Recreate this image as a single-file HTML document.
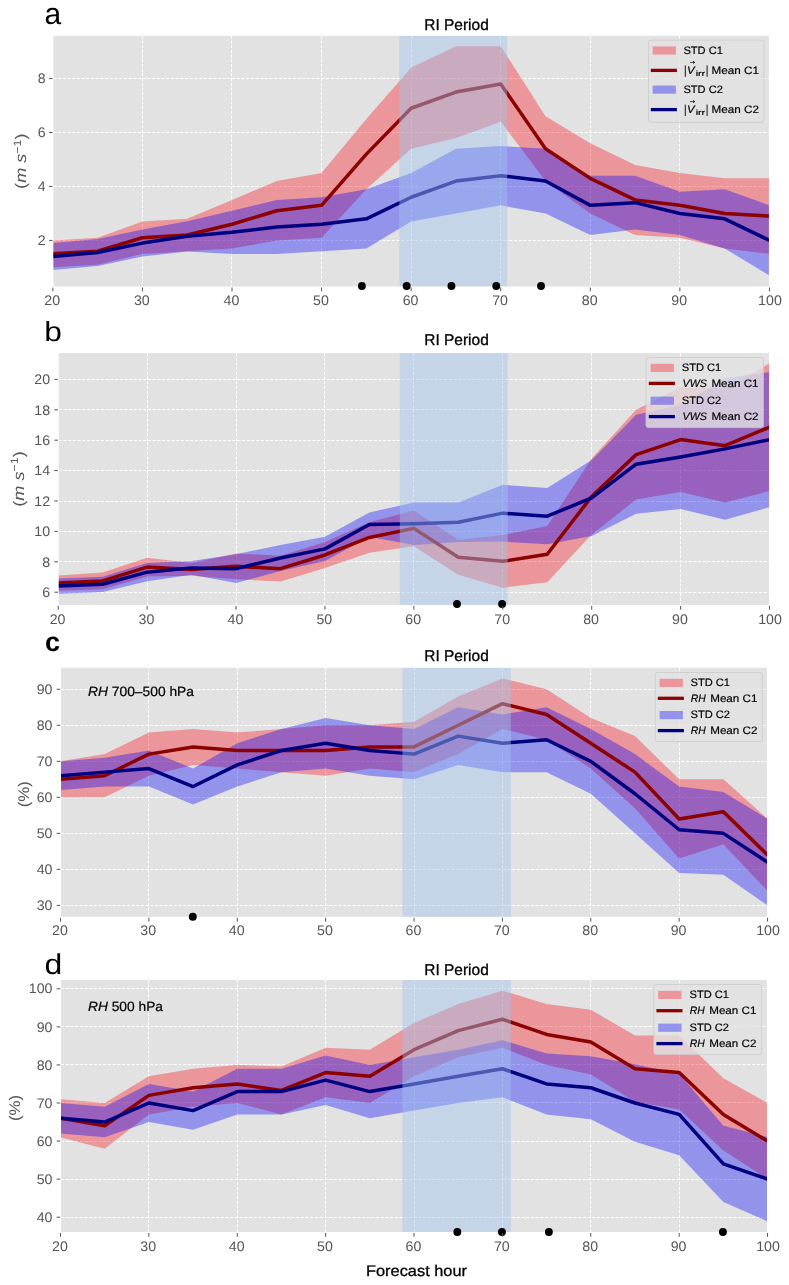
<!DOCTYPE html>
<html><head><meta charset="utf-8"><title>chart</title>
<style>html,body{margin:0;padding:0;background:#fff;}svg{display:block;will-change:transform;opacity:0.999;}text{font-family:"Liberation Sans",sans-serif;text-rendering:geometricPrecision;}</style></head><body>
<svg width="789" height="1285" viewBox="0 0 789 1285">
<rect x="0" y="0" width="789" height="1285" fill="#ffffff"/>
<g id="panel-a">
<rect x="53.4" y="35.8" width="715.5" height="250.7" fill="#e2e2e2"/>
<path d="M142.5 35.8V286.5M231.5 35.8V286.5M321.5 35.8V286.5M411.5 35.8V286.5M500.5 35.8V286.5M590.5 35.8V286.5M679.5 35.8V286.5M53.4 240.5H768.9M53.4 186.5H768.9M53.4 132.5H768.9M53.4 78.5H768.9" stroke="#ffffff" stroke-width="1" stroke-dasharray="3.0 1.7" fill="none"/>
<clipPath id="clip-a"><rect x="53.4" y="35.8" width="715.5" height="250.7"/></clipPath>
<g clip-path="url(#clip-a)">
<path d="M52.85 240.4L97.64 237.7L142.42 221.52L187.21 218.82L232 199.94L276.79 181.07L321.57 172.98L366.36 119.04L411.15 67.79L455.94 46.22L500.73 46.22L545.51 116.34L590.3 143.31L635.09 164.88L679.88 172.98L724.66 178.37L769.45 178.37L769.45 253.88L724.66 248.49L679.88 237.7L635.09 235.01L590.3 213.43L545.51 181.07L500.73 121.73L455.94 137.91L411.15 148.7L366.36 189.16L321.57 237.7L276.79 240.4L232 248.49L187.21 251.19L142.42 253.88L97.64 264.67L52.85 267.37Z" fill="#f80a14" fill-opacity="0.35" stroke="none"/>
<path d="M52.85 243.1L97.64 239.05L142.42 229.61L187.21 221.25L232 210.73L276.79 199.94L321.57 197.25L366.36 189.16L411.15 172.98L455.94 148.7L500.73 146L545.51 148.7L590.3 175.67L635.09 175.67L679.88 191.85L724.66 189.16L769.45 205.34L769.45 275.46L724.66 248.49L679.88 235.01L635.09 229.61L590.3 235.01L545.51 213.43L500.73 205.34L455.94 213.43L411.15 221.52L366.36 248.49L321.57 251.19L276.79 253.88L232 253.89L187.21 251.46L142.42 256.58L97.64 266.02L52.85 270.07Z" fill="#0000ff" fill-opacity="0.35" stroke="none"/>
<path d="M52.85 253.88L97.64 251.19L142.42 237.7L187.21 235.01L232 224.22L276.79 210.73L321.57 205.34L366.36 154.1L411.15 108.25L455.94 92.07L500.73 83.97L545.51 148.7L590.3 178.37L635.09 199.94L679.88 205.34L724.66 213.43L769.45 216.13" fill="none" stroke="#8b0000" stroke-width="3.5" stroke-linejoin="round" stroke-linecap="butt"/>
<path d="M52.85 256.58L97.64 252.54L142.42 243.1L187.21 236.35L232 232.31L276.79 226.92L321.57 224.22L366.36 218.82L411.15 197.25L455.94 181.07L500.73 175.67L545.51 181.07L590.3 205.34L635.09 202.64L679.88 213.43L724.66 218.82L769.45 240.4" fill="none" stroke="#000080" stroke-width="3.5" stroke-linejoin="round" stroke-linecap="butt"/>
<rect x="399.3" y="35.8" width="107.9" height="250.7" fill="#a2c4ed" fill-opacity="0.45"/>
</g>
<circle cx="361.88" cy="286" r="3.95" fill="#000"/>
<circle cx="406.67" cy="286" r="3.95" fill="#000"/>
<circle cx="451.46" cy="286" r="3.95" fill="#000"/>
<circle cx="496.25" cy="286" r="3.95" fill="#000"/>
<circle cx="541.03" cy="286" r="3.95" fill="#000"/>
<path d="M52.85 287.5v3.8M142.42 287.5v3.8M232 287.5v3.8M321.57 287.5v3.8M411.15 287.5v3.8M500.73 287.5v3.8M590.3 287.5v3.8M679.88 287.5v3.8M769.45 287.5v3.8M52.6 240.4h-3.6M52.6 186.46h-3.6M52.6 132.52h-3.6M52.6 78.58h-3.6" stroke="#555555" stroke-width="1" fill="none"/>
<text x="52.25" y="305.1" font-size="13.8" fill="#555555" text-anchor="middle" textLength="15.8" lengthAdjust="spacingAndGlyphs">20</text>
<text x="141.82" y="305.1" font-size="13.8" fill="#555555" text-anchor="middle" textLength="15.8" lengthAdjust="spacingAndGlyphs">30</text>
<text x="231.4" y="305.1" font-size="13.8" fill="#555555" text-anchor="middle" textLength="15.8" lengthAdjust="spacingAndGlyphs">40</text>
<text x="320.97" y="305.1" font-size="13.8" fill="#555555" text-anchor="middle" textLength="15.8" lengthAdjust="spacingAndGlyphs">50</text>
<text x="410.55" y="305.1" font-size="13.8" fill="#555555" text-anchor="middle" textLength="15.8" lengthAdjust="spacingAndGlyphs">60</text>
<text x="500.12" y="305.1" font-size="13.8" fill="#555555" text-anchor="middle" textLength="15.8" lengthAdjust="spacingAndGlyphs">70</text>
<text x="589.7" y="305.1" font-size="13.8" fill="#555555" text-anchor="middle" textLength="15.8" lengthAdjust="spacingAndGlyphs">80</text>
<text x="679.27" y="305.1" font-size="13.8" fill="#555555" text-anchor="middle" textLength="15.8" lengthAdjust="spacingAndGlyphs">90</text>
<text x="769.95" y="305.1" font-size="13.8" fill="#555555" text-anchor="middle" textLength="23.7" lengthAdjust="spacingAndGlyphs">100</text>
<text x="45.7" y="245.1" font-size="13.8" fill="#555555" text-anchor="end" textLength="7.9" lengthAdjust="spacingAndGlyphs">2</text>
<text x="45.7" y="191.16" font-size="13.8" fill="#555555" text-anchor="end" textLength="7.9" lengthAdjust="spacingAndGlyphs">4</text>
<text x="45.7" y="137.22" font-size="13.8" fill="#555555" text-anchor="end" textLength="7.9" lengthAdjust="spacingAndGlyphs">6</text>
<text x="45.7" y="83.28" font-size="13.8" fill="#555555" text-anchor="end" textLength="7.9" lengthAdjust="spacingAndGlyphs">8</text>
<text transform="translate(26.2 161.15) rotate(-90)" font-size="15.4" fill="#555555" text-anchor="middle" textLength="55.5" lengthAdjust="spacingAndGlyphs">(<tspan font-style="italic">m s</tspan><tspan font-size="10.6" dy="-5.6">−1</tspan><tspan dy="5.6">)</tspan></text>
<text x="456.5" y="30" font-size="15.6" fill="#000" stroke="#000" stroke-width="0.3" text-anchor="middle" textLength="64.6" lengthAdjust="spacingAndGlyphs">RI Period</text>
<text x="44.4" y="23.5" font-size="30" font-weight="normal" fill="#000" textLength="16.68" lengthAdjust="spacingAndGlyphs">a</text>
<rect x="648.5" y="40.1" width="115.5" height="82.2" rx="2.5" ry="2.5" fill="#e2e2e2" fill-opacity="0.8" stroke="#cccccc" stroke-opacity="0.8" stroke-width="1"/>
<rect x="652.6" y="46.4" width="23.3" height="8.2" fill="#f80a14" fill-opacity="0.35"/>
<text x="683.4" y="53.8" font-size="10.8" fill="#000" stroke="#000" stroke-width="0.18" textLength="39.5" lengthAdjust="spacingAndGlyphs">STD C1</text>
<path d="M650.8 70.4H676.9" stroke="#8b0000" stroke-width="3.3"/>
<path d="M685.3 65.4v11.4M707.1 65.4v11.4" stroke="#000" stroke-width="0.9"/>
<text x="687" y="74" font-size="10.8" fill="#000" stroke="#000" stroke-width="0.18" font-style="italic" textLength="7.6" lengthAdjust="spacingAndGlyphs">V</text>
<path d="M690 62.4h4.6" stroke="#000" stroke-width="0.7" fill="none"/>
<path d="M693 61.2l1.8 1.2l-1.8 1.2" stroke="#000" stroke-width="0.7" fill="none"/>
<text x="695.7" y="76" font-size="7.6" fill="#000" stroke="#000" stroke-width="0.18" textLength="9.4" lengthAdjust="spacingAndGlyphs">irr</text>
<text x="711.6" y="74" font-size="10.8" fill="#000" stroke="#000" stroke-width="0.18" textLength="47.4" lengthAdjust="spacingAndGlyphs">Mean C1</text>
<rect x="652.6" y="85.5" width="23.3" height="8.2" fill="#0000ff" fill-opacity="0.35"/>
<text x="683.4" y="92.9" font-size="10.8" fill="#000" stroke="#000" stroke-width="0.18" textLength="39.5" lengthAdjust="spacingAndGlyphs">STD C2</text>
<path d="M650.8 109.6H676.9" stroke="#000080" stroke-width="3.3"/>
<path d="M685.3 104.6v11.4M707.1 104.6v11.4" stroke="#000" stroke-width="0.9"/>
<text x="687" y="113.2" font-size="10.8" fill="#000" stroke="#000" stroke-width="0.18" font-style="italic" textLength="7.6" lengthAdjust="spacingAndGlyphs">V</text>
<path d="M690 101.6h4.6" stroke="#000" stroke-width="0.7" fill="none"/>
<path d="M693 100.4l1.8 1.2l-1.8 1.2" stroke="#000" stroke-width="0.7" fill="none"/>
<text x="695.7" y="115.2" font-size="7.6" fill="#000" stroke="#000" stroke-width="0.18" textLength="9.4" lengthAdjust="spacingAndGlyphs">irr</text>
<text x="711.6" y="113.2" font-size="10.8" fill="#000" stroke="#000" stroke-width="0.18" textLength="47.4" lengthAdjust="spacingAndGlyphs">Mean C2</text>
</g>
<g id="panel-b">
<rect x="58.75" y="353.1" width="710.25" height="251.8" fill="#e2e2e2"/>
<path d="M147.5 353.1V604.9M236.5 353.1V604.9M324.5 353.1V604.9M413.5 353.1V604.9M502.5 353.1V604.9M591.5 353.1V604.9M680.5 353.1V604.9M58.75 592.5H769M58.75 561.5H769M58.75 531.5H769M58.75 501.5H769M58.75 470.5H769M58.75 440.5H769M58.75 409.5H769M58.75 379.5H769" stroke="#ffffff" stroke-width="1" stroke-dasharray="3.0 1.7" fill="none"/>
<clipPath id="clip-b"><rect x="58.75" y="353.1" width="710.25" height="251.8"/></clipPath>
<g clip-path="url(#clip-b)">
<path d="M58.2 575.48L102.66 572.59L147.12 557.7L191.58 563.02L236.04 553.44L280.5 555.72L324.96 542.04L369.42 522.28L413.87 510.58L458.33 539.76L502.79 535.05L547.25 526.08L591.71 458.44L636.17 409.8L680.63 387.3L725.09 388.82L769.55 363.29L769.55 490.97L725.09 502.52L680.63 491.88L636.17 499.48L591.71 534.44L547.25 582.32L502.79 587.64L458.33 574.72L413.87 546.14L369.42 552.68L324.96 567.88L280.5 581.56L236.04 579.28L191.58 575.78L147.12 576.54L102.66 589.31L58.2 590.68Z" fill="#f80a14" fill-opacity="0.35" stroke="none"/>
<path d="M58.2 578.52L102.66 576.7L147.12 563.02L191.58 561.04L236.04 554.2L280.5 545.08L324.96 536.72L369.42 512.4L413.87 502.52L458.33 502.52L502.79 484.74L547.25 488.08L591.71 459.96L636.17 414.66L680.63 404.94L725.09 377.88L769.55 372.1L769.55 507.08L725.09 519.85L680.63 508.9L636.17 513.77L591.71 535.96L547.25 544.32L502.79 541.58L458.33 542.04L413.87 545.08L369.42 536.72L324.96 561.04L280.5 570.92L236.04 583.08L191.58 574.72L147.12 581.26L102.66 591.9L58.2 593.72Z" fill="#0000ff" fill-opacity="0.35" stroke="none"/>
<path d="M58.2 583.08L102.66 580.95L147.12 567.12L191.58 569.4L236.04 566.36L280.5 568.64L324.96 554.96L369.42 537.48L413.87 528.36L458.33 557.24L502.79 561.34L547.25 554.2L591.71 496.44L636.17 454.64L680.63 439.59L725.09 445.67L769.55 427.13" fill="none" stroke="#8b0000" stroke-width="3.5" stroke-linejoin="round" stroke-linecap="butt"/>
<path d="M58.2 586.12L102.66 584.3L147.12 572.14L191.58 567.88L236.04 568.64L280.5 558L324.96 548.88L369.42 524.56L413.87 523.8L458.33 522.28L502.79 513.16L547.25 516.2L591.71 497.96L636.17 464.22L680.63 456.92L725.09 448.86L769.55 439.59" fill="none" stroke="#000080" stroke-width="3.5" stroke-linejoin="round" stroke-linecap="butt"/>
<rect x="399.8" y="353.1" width="107.9" height="251.8" fill="#a2c4ed" fill-opacity="0.45"/>
</g>
<circle cx="457" cy="604" r="3.95" fill="#000"/>
<circle cx="502.08" cy="604" r="3.95" fill="#000"/>
<path d="M58.2 605.9v3.8M147.12 605.9v3.8M236.04 605.9v3.8M324.96 605.9v3.8M413.87 605.9v3.8M502.79 605.9v3.8M591.71 605.9v3.8M680.63 605.9v3.8M769.55 605.9v3.8M57.95 592.2h-3.6M57.95 561.8h-3.6M57.95 531.4h-3.6M57.95 501h-3.6M57.95 470.6h-3.6M57.95 440.2h-3.6M57.95 409.8h-3.6M57.95 379.4h-3.6" stroke="#555555" stroke-width="1" fill="none"/>
<text x="57.6" y="623.5" font-size="13.8" fill="#555555" text-anchor="middle" textLength="15.8" lengthAdjust="spacingAndGlyphs">20</text>
<text x="146.52" y="623.5" font-size="13.8" fill="#555555" text-anchor="middle" textLength="15.8" lengthAdjust="spacingAndGlyphs">30</text>
<text x="235.44" y="623.5" font-size="13.8" fill="#555555" text-anchor="middle" textLength="15.8" lengthAdjust="spacingAndGlyphs">40</text>
<text x="324.36" y="623.5" font-size="13.8" fill="#555555" text-anchor="middle" textLength="15.8" lengthAdjust="spacingAndGlyphs">50</text>
<text x="413.27" y="623.5" font-size="13.8" fill="#555555" text-anchor="middle" textLength="15.8" lengthAdjust="spacingAndGlyphs">60</text>
<text x="502.19" y="623.5" font-size="13.8" fill="#555555" text-anchor="middle" textLength="15.8" lengthAdjust="spacingAndGlyphs">70</text>
<text x="591.11" y="623.5" font-size="13.8" fill="#555555" text-anchor="middle" textLength="15.8" lengthAdjust="spacingAndGlyphs">80</text>
<text x="680.03" y="623.5" font-size="13.8" fill="#555555" text-anchor="middle" textLength="15.8" lengthAdjust="spacingAndGlyphs">90</text>
<text x="770.05" y="623.5" font-size="13.8" fill="#555555" text-anchor="middle" textLength="23.7" lengthAdjust="spacingAndGlyphs">100</text>
<text x="50.15" y="596.9" font-size="13.8" fill="#555555" text-anchor="end" textLength="7.9" lengthAdjust="spacingAndGlyphs">6</text>
<text x="50.15" y="566.5" font-size="13.8" fill="#555555" text-anchor="end" textLength="7.9" lengthAdjust="spacingAndGlyphs">8</text>
<text x="50.15" y="536.1" font-size="13.8" fill="#555555" text-anchor="end" textLength="15.8" lengthAdjust="spacingAndGlyphs">10</text>
<text x="50.15" y="505.7" font-size="13.8" fill="#555555" text-anchor="end" textLength="15.8" lengthAdjust="spacingAndGlyphs">12</text>
<text x="50.15" y="475.3" font-size="13.8" fill="#555555" text-anchor="end" textLength="15.8" lengthAdjust="spacingAndGlyphs">14</text>
<text x="50.15" y="444.9" font-size="13.8" fill="#555555" text-anchor="end" textLength="15.8" lengthAdjust="spacingAndGlyphs">16</text>
<text x="50.15" y="414.5" font-size="13.8" fill="#555555" text-anchor="end" textLength="15.8" lengthAdjust="spacingAndGlyphs">18</text>
<text x="50.15" y="384.1" font-size="13.8" fill="#555555" text-anchor="end" textLength="15.8" lengthAdjust="spacingAndGlyphs">20</text>
<text transform="translate(24 479) rotate(-90)" font-size="15.4" fill="#555555" text-anchor="middle" textLength="55.5" lengthAdjust="spacingAndGlyphs">(<tspan font-style="italic">m s</tspan><tspan font-size="10.6" dy="-5.6">−1</tspan><tspan dy="5.6">)</tspan></text>
<text x="456.5" y="345" font-size="15.6" fill="#000" stroke="#000" stroke-width="0.3" text-anchor="middle" textLength="64.6" lengthAdjust="spacingAndGlyphs">RI Period</text>
<text x="44.2" y="341" font-size="27.6" font-weight="normal" fill="#000" textLength="17.65" lengthAdjust="spacingAndGlyphs">b</text>
<rect x="646.1" y="357.5" width="117.3" height="70.1" rx="2.5" ry="2.5" fill="#e2e2e2" fill-opacity="0.8" stroke="#cccccc" stroke-opacity="0.8" stroke-width="1"/>
<rect x="650.6" y="363.8" width="23.3" height="8.2" fill="#f80a14" fill-opacity="0.35"/>
<text x="681.8" y="371.2" font-size="10.8" fill="#000" stroke="#000" stroke-width="0.18" textLength="39.5" lengthAdjust="spacingAndGlyphs">STD C1</text>
<path d="M648.8 383.4H674.9" stroke="#8b0000" stroke-width="3.3"/>
<text x="682.6" y="387" font-size="10.8" fill="#000" stroke="#000" stroke-width="0.18" font-style="italic" textLength="24.4" lengthAdjust="spacingAndGlyphs">VWS</text>
<text x="711.4" y="387" font-size="10.8" fill="#000" stroke="#000" stroke-width="0.18" textLength="47.2" lengthAdjust="spacingAndGlyphs">Mean C1</text>
<rect x="650.6" y="396.6" width="23.3" height="8.2" fill="#0000ff" fill-opacity="0.35"/>
<text x="681.8" y="404" font-size="10.8" fill="#000" stroke="#000" stroke-width="0.18" textLength="39.5" lengthAdjust="spacingAndGlyphs">STD C2</text>
<path d="M648.8 416.6H674.9" stroke="#000080" stroke-width="3.3"/>
<text x="682.6" y="420.2" font-size="10.8" fill="#000" stroke="#000" stroke-width="0.18" font-style="italic" textLength="24.4" lengthAdjust="spacingAndGlyphs">VWS</text>
<text x="711.4" y="420.2" font-size="10.8" fill="#000" stroke="#000" stroke-width="0.18" textLength="47.2" lengthAdjust="spacingAndGlyphs">Mean C2</text>
</g>
<g id="panel-c">
<rect x="61.05" y="667.7" width="705.95" height="249.1" fill="#e2e2e2"/>
<path d="M148.5 667.7V916.8M237.5 667.7V916.8M325.5 667.7V916.8M414.5 667.7V916.8M502.5 667.7V916.8M590.5 667.7V916.8M679.5 667.7V916.8M61.05 905.5H767M61.05 869.5H767M61.05 833.5H767M61.05 797.5H767M61.05 761.5H767M61.05 725.5H767M61.05 689.5H767" stroke="#ffffff" stroke-width="1" stroke-dasharray="3.0 1.7" fill="none"/>
<clipPath id="clip-c"><rect x="61.05" y="667.7" width="705.95" height="249.1"/></clipPath>
<g clip-path="url(#clip-c)">
<path d="M60.5 761.32L104.69 754.12L148.88 732.5L193.07 728.9L237.26 732.5L281.45 728.9L325.64 725.3L369.83 725.3L414.02 721.7L458.22 696.48L502.41 678.47L546.6 689.28L590.79 718.1L634.98 736.11L679.17 779.33L723.36 779.33L767.55 818.95L767.55 890.99L723.36 844.17L679.17 858.57L634.98 808.15L590.79 768.52L546.6 739.71L502.41 728.9L458.22 754.12L414.02 772.13L369.83 768.52L325.64 775.73L281.45 772.13L237.26 768.52L193.07 764.92L148.88 775.73L104.69 797.34L60.5 797.34Z" fill="#f80a14" fill-opacity="0.35" stroke="none"/>
<path d="M60.5 761.32L104.69 757.72L148.88 750.51L193.07 768.52L237.26 743.31L281.45 728.9L325.64 718.1L369.83 725.3L414.02 728.9L458.22 707.29L502.41 714.49L546.6 707.29L590.79 728.9L634.98 754.12L679.17 786.53L723.36 791.94L767.55 818.95L767.55 905.4L723.36 874.78L679.17 872.98L634.98 833.36L590.79 793.74L546.6 772.13L502.41 772.13L458.22 764.92L414.02 779.33L369.83 775.73L325.64 768.52L281.45 772.13L237.26 786.53L193.07 804.54L148.88 786.53L104.69 786.53L60.5 790.14Z" fill="#0000ff" fill-opacity="0.35" stroke="none"/>
<path d="M60.5 779.33L104.69 775.73L148.88 754.12L193.07 746.91L237.26 750.51L281.45 750.51L325.64 750.51L369.83 746.91L414.02 746.91L458.22 725.3L502.41 703.69L546.6 714.49L590.79 743.31L634.98 772.13L679.17 818.95L723.36 811.75L767.55 854.97" fill="none" stroke="#8b0000" stroke-width="3.5" stroke-linejoin="round" stroke-linecap="butt"/>
<path d="M60.5 775.73L104.69 772.13L148.88 768.52L193.07 786.53L237.26 764.92L281.45 750.51L325.64 743.31L369.83 750.51L414.02 754.12L458.22 736.11L502.41 743.31L546.6 739.71L590.79 761.32L634.98 793.74L679.17 829.76L723.36 833.36L767.55 862.18" fill="none" stroke="#000080" stroke-width="3.5" stroke-linejoin="round" stroke-linecap="butt"/>
<rect x="402.4" y="667.7" width="108.4" height="249.1" fill="#a2c4ed" fill-opacity="0.45"/>
</g>
<circle cx="192.81" cy="916.8" r="3.95" fill="#000"/>
<path d="M60.5 917.8v3.8M148.88 917.8v3.8M237.26 917.8v3.8M325.64 917.8v3.8M414.02 917.8v3.8M502.41 917.8v3.8M590.79 917.8v3.8M679.17 917.8v3.8M767.55 917.8v3.8M60.25 905.4h-3.6M60.25 869.38h-3.6M60.25 833.36h-3.6M60.25 797.34h-3.6M60.25 761.32h-3.6M60.25 725.3h-3.6M60.25 689.28h-3.6" stroke="#555555" stroke-width="1" fill="none"/>
<text x="59.9" y="935.4" font-size="13.8" fill="#555555" text-anchor="middle" textLength="15.8" lengthAdjust="spacingAndGlyphs">20</text>
<text x="148.28" y="935.4" font-size="13.8" fill="#555555" text-anchor="middle" textLength="15.8" lengthAdjust="spacingAndGlyphs">30</text>
<text x="236.66" y="935.4" font-size="13.8" fill="#555555" text-anchor="middle" textLength="15.8" lengthAdjust="spacingAndGlyphs">40</text>
<text x="325.04" y="935.4" font-size="13.8" fill="#555555" text-anchor="middle" textLength="15.8" lengthAdjust="spacingAndGlyphs">50</text>
<text x="413.42" y="935.4" font-size="13.8" fill="#555555" text-anchor="middle" textLength="15.8" lengthAdjust="spacingAndGlyphs">60</text>
<text x="501.81" y="935.4" font-size="13.8" fill="#555555" text-anchor="middle" textLength="15.8" lengthAdjust="spacingAndGlyphs">70</text>
<text x="590.19" y="935.4" font-size="13.8" fill="#555555" text-anchor="middle" textLength="15.8" lengthAdjust="spacingAndGlyphs">80</text>
<text x="678.57" y="935.4" font-size="13.8" fill="#555555" text-anchor="middle" textLength="15.8" lengthAdjust="spacingAndGlyphs">90</text>
<text x="768.05" y="935.4" font-size="13.8" fill="#555555" text-anchor="middle" textLength="23.7" lengthAdjust="spacingAndGlyphs">100</text>
<text x="52.45" y="910.1" font-size="13.8" fill="#555555" text-anchor="end" textLength="15.8" lengthAdjust="spacingAndGlyphs">30</text>
<text x="52.45" y="874.08" font-size="13.8" fill="#555555" text-anchor="end" textLength="15.8" lengthAdjust="spacingAndGlyphs">40</text>
<text x="52.45" y="838.06" font-size="13.8" fill="#555555" text-anchor="end" textLength="15.8" lengthAdjust="spacingAndGlyphs">50</text>
<text x="52.45" y="802.04" font-size="13.8" fill="#555555" text-anchor="end" textLength="15.8" lengthAdjust="spacingAndGlyphs">60</text>
<text x="52.45" y="766.02" font-size="13.8" fill="#555555" text-anchor="end" textLength="15.8" lengthAdjust="spacingAndGlyphs">70</text>
<text x="52.45" y="730" font-size="13.8" fill="#555555" text-anchor="end" textLength="15.8" lengthAdjust="spacingAndGlyphs">80</text>
<text x="52.45" y="693.98" font-size="13.8" fill="#555555" text-anchor="end" textLength="15.8" lengthAdjust="spacingAndGlyphs">90</text>
<text transform="translate(28.8 794.25) rotate(-90)" font-size="15.4" fill="#555555" text-anchor="middle" textLength="26.2" lengthAdjust="spacingAndGlyphs">(%)</text>
<text x="456.5" y="661" font-size="15.6" fill="#000" stroke="#000" stroke-width="0.3" text-anchor="middle" textLength="64.6" lengthAdjust="spacingAndGlyphs">RI Period</text>
<text x="45" y="651" font-size="27.0" font-weight="bold" fill="#000" textLength="15.01" lengthAdjust="spacingAndGlyphs">c</text>
<text x="88" y="696" font-size="13.4" fill="#000" stroke="#000" stroke-width="0.2" xml:space="preserve" textLength="106" lengthAdjust="spacingAndGlyphs"><tspan font-style="italic">RH</tspan> 700–500 hPa</text>
<rect x="655.2" y="672.5" width="107.2" height="69.1" rx="2.5" ry="2.5" fill="#e2e2e2" fill-opacity="0.8" stroke="#cccccc" stroke-opacity="0.8" stroke-width="1"/>
<rect x="659.6" y="678.8" width="23.3" height="8.2" fill="#f80a14" fill-opacity="0.35"/>
<text x="690.5" y="686.2" font-size="10.8" fill="#000" stroke="#000" stroke-width="0.18" textLength="39.5" lengthAdjust="spacingAndGlyphs">STD C1</text>
<path d="M657.8 698.3H683.9" stroke="#8b0000" stroke-width="3.3"/>
<text x="690.8" y="701.9" font-size="10.8" fill="#000" stroke="#000" stroke-width="0.18" font-style="italic" textLength="15" lengthAdjust="spacingAndGlyphs">RH</text>
<text x="710.2" y="701.9" font-size="10.8" fill="#000" stroke="#000" stroke-width="0.18" textLength="47.2" lengthAdjust="spacingAndGlyphs">Mean C1</text>
<rect x="659.6" y="711" width="23.3" height="8.2" fill="#0000ff" fill-opacity="0.35"/>
<text x="690.5" y="718.4" font-size="10.8" fill="#000" stroke="#000" stroke-width="0.18" textLength="39.5" lengthAdjust="spacingAndGlyphs">STD C2</text>
<path d="M657.8 730.6H683.9" stroke="#000080" stroke-width="3.3"/>
<text x="690.8" y="734.2" font-size="10.8" fill="#000" stroke="#000" stroke-width="0.18" font-style="italic" textLength="15" lengthAdjust="spacingAndGlyphs">RH</text>
<text x="710.2" y="734.2" font-size="10.8" fill="#000" stroke="#000" stroke-width="0.18" textLength="47.2" lengthAdjust="spacingAndGlyphs">Mean C2</text>
</g>
<g id="panel-d">
<rect x="61.05" y="980" width="705.95" height="252" fill="#e2e2e2"/>
<path d="M148.5 980V1232M237.5 980V1232M325.5 980V1232M414.5 980V1232M502.5 980V1232M590.5 980V1232M679.5 980V1232M61.05 1217.5H767M61.05 1179.5H767M61.05 1141.5H767M61.05 1102.5H767M61.05 1064.5H767M61.05 1026.5H767M61.05 988.5H767" stroke="#ffffff" stroke-width="1" stroke-dasharray="3.0 1.7" fill="none"/>
<clipPath id="clip-d"><rect x="61.05" y="980" width="705.95" height="252"/></clipPath>
<g clip-path="url(#clip-d)">
<path d="M60.5 1099.18L104.69 1102.99L148.88 1076.34L193.07 1068.73L237.26 1064.92L281.45 1066.44L325.64 1047.79L369.83 1049.69L414.02 1023.04L458.22 1004.01L502.41 990.68L546.6 1004.01L590.79 1009.72L634.98 1035.61L679.17 1035.61L723.36 1078.24L767.55 1102.99L767.55 1179.13L723.36 1150.58L679.17 1109.46L634.98 1101.85L590.79 1074.44L546.6 1064.92L502.41 1047.79L458.22 1057.31L414.02 1076.34L369.83 1102.99L325.64 1097.28L281.45 1114.41L237.26 1102.99L193.07 1106.8L148.88 1114.41L104.69 1148.67L60.5 1137.25Z" fill="#f80a14" fill-opacity="0.35" stroke="none"/>
<path d="M60.5 1102.99L104.69 1106.8L148.88 1083.95L193.07 1091.57L237.26 1068.73L281.45 1068.73L325.64 1055.4L369.83 1064.92L414.02 1057.31L458.22 1049.69L502.41 1040.17L546.6 1053.5L590.79 1056.16L634.98 1064.16L679.17 1073.68L723.36 1125.83L767.55 1136.87L767.55 1221.39L723.36 1201.97L679.17 1155.15L634.98 1141.82L590.79 1119.36L546.6 1114.41L502.41 1097.28L458.22 1102.99L414.02 1110.6L369.83 1118.22L325.64 1104.89L281.45 1114.41L237.26 1114.41L193.07 1129.64L148.88 1122.03L104.69 1137.25L60.5 1133.45Z" fill="#0000ff" fill-opacity="0.35" stroke="none"/>
<path d="M60.5 1118.22L104.69 1125.83L148.88 1095.38L193.07 1087.76L237.26 1083.95L281.45 1090.43L325.64 1072.53L369.83 1076.34L414.02 1049.69L458.22 1030.66L502.41 1019.24L546.6 1034.46L590.79 1042.08L634.98 1068.73L679.17 1072.53L723.36 1114.41L767.55 1141.06" fill="none" stroke="#8b0000" stroke-width="3.5" stroke-linejoin="round" stroke-linecap="butt"/>
<path d="M60.5 1118.22L104.69 1122.03L148.88 1102.99L193.07 1110.6L237.26 1091.57L281.45 1091.57L325.64 1080.15L369.83 1091.57L414.02 1083.95L458.22 1076.34L502.41 1068.73L546.6 1083.95L590.79 1087.76L634.98 1102.99L679.17 1114.41L723.36 1163.9L767.55 1179.13" fill="none" stroke="#000080" stroke-width="3.5" stroke-linejoin="round" stroke-linecap="butt"/>
<rect x="402.4" y="980" width="108.4" height="252" fill="#a2c4ed" fill-opacity="0.45"/>
</g>
<circle cx="457.33" cy="1232" r="3.95" fill="#000"/>
<circle cx="501.96" cy="1232" r="3.95" fill="#000"/>
<circle cx="548.89" cy="1232" r="3.95" fill="#000"/>
<circle cx="722.92" cy="1232" r="3.95" fill="#000"/>
<path d="M60.5 1233v3.8M148.88 1233v3.8M237.26 1233v3.8M325.64 1233v3.8M414.02 1233v3.8M502.41 1233v3.8M590.79 1233v3.8M679.17 1233v3.8M767.55 1233v3.8M60.25 1217.2h-3.6M60.25 1179.13h-3.6M60.25 1141.06h-3.6M60.25 1102.99h-3.6M60.25 1064.92h-3.6M60.25 1026.85h-3.6M60.25 988.78h-3.6" stroke="#555555" stroke-width="1" fill="none"/>
<text x="59.9" y="1250.6" font-size="13.8" fill="#555555" text-anchor="middle" textLength="15.8" lengthAdjust="spacingAndGlyphs">20</text>
<text x="148.28" y="1250.6" font-size="13.8" fill="#555555" text-anchor="middle" textLength="15.8" lengthAdjust="spacingAndGlyphs">30</text>
<text x="236.66" y="1250.6" font-size="13.8" fill="#555555" text-anchor="middle" textLength="15.8" lengthAdjust="spacingAndGlyphs">40</text>
<text x="325.04" y="1250.6" font-size="13.8" fill="#555555" text-anchor="middle" textLength="15.8" lengthAdjust="spacingAndGlyphs">50</text>
<text x="413.42" y="1250.6" font-size="13.8" fill="#555555" text-anchor="middle" textLength="15.8" lengthAdjust="spacingAndGlyphs">60</text>
<text x="501.81" y="1250.6" font-size="13.8" fill="#555555" text-anchor="middle" textLength="15.8" lengthAdjust="spacingAndGlyphs">70</text>
<text x="590.19" y="1250.6" font-size="13.8" fill="#555555" text-anchor="middle" textLength="15.8" lengthAdjust="spacingAndGlyphs">80</text>
<text x="678.57" y="1250.6" font-size="13.8" fill="#555555" text-anchor="middle" textLength="15.8" lengthAdjust="spacingAndGlyphs">90</text>
<text x="768.05" y="1250.6" font-size="13.8" fill="#555555" text-anchor="middle" textLength="23.7" lengthAdjust="spacingAndGlyphs">100</text>
<text x="52.45" y="1221.9" font-size="13.8" fill="#555555" text-anchor="end" textLength="15.8" lengthAdjust="spacingAndGlyphs">40</text>
<text x="52.45" y="1183.83" font-size="13.8" fill="#555555" text-anchor="end" textLength="15.8" lengthAdjust="spacingAndGlyphs">50</text>
<text x="52.45" y="1145.76" font-size="13.8" fill="#555555" text-anchor="end" textLength="15.8" lengthAdjust="spacingAndGlyphs">60</text>
<text x="52.45" y="1107.69" font-size="13.8" fill="#555555" text-anchor="end" textLength="15.8" lengthAdjust="spacingAndGlyphs">70</text>
<text x="52.45" y="1069.62" font-size="13.8" fill="#555555" text-anchor="end" textLength="15.8" lengthAdjust="spacingAndGlyphs">80</text>
<text x="52.45" y="1031.55" font-size="13.8" fill="#555555" text-anchor="end" textLength="15.8" lengthAdjust="spacingAndGlyphs">90</text>
<text x="52.45" y="993.48" font-size="13.8" fill="#555555" text-anchor="end" textLength="23.7" lengthAdjust="spacingAndGlyphs">100</text>
<text transform="translate(20.1 1108) rotate(-90)" font-size="15.4" fill="#555555" text-anchor="middle" textLength="26.2" lengthAdjust="spacingAndGlyphs">(%)</text>
<text x="456.5" y="975" font-size="15.6" fill="#000" stroke="#000" stroke-width="0.3" text-anchor="middle" textLength="64.6" lengthAdjust="spacingAndGlyphs">RI Period</text>
<text x="44.6" y="973.6" font-size="28.5" font-weight="normal" fill="#000" textLength="17.75" lengthAdjust="spacingAndGlyphs">d</text>
<text x="88" y="1010.6" font-size="13.4" fill="#000" stroke="#000" stroke-width="0.2" xml:space="preserve" textLength="75" lengthAdjust="spacingAndGlyphs"><tspan font-style="italic">RH</tspan> 500 hPa</text>
<rect x="653.8" y="984.5" width="107.8" height="70.1" rx="2.5" ry="2.5" fill="#e2e2e2" fill-opacity="0.8" stroke="#cccccc" stroke-opacity="0.8" stroke-width="1"/>
<rect x="658.2" y="990.8" width="23.3" height="8.2" fill="#f80a14" fill-opacity="0.35"/>
<text x="689.5" y="998.2" font-size="10.8" fill="#000" stroke="#000" stroke-width="0.18" textLength="39.5" lengthAdjust="spacingAndGlyphs">STD C1</text>
<path d="M656.4 1010.7H682.5" stroke="#8b0000" stroke-width="3.3"/>
<text x="689.8" y="1014.3" font-size="10.8" fill="#000" stroke="#000" stroke-width="0.18" font-style="italic" textLength="15" lengthAdjust="spacingAndGlyphs">RH</text>
<text x="709.2" y="1014.3" font-size="10.8" fill="#000" stroke="#000" stroke-width="0.18" textLength="47.2" lengthAdjust="spacingAndGlyphs">Mean C1</text>
<rect x="658.2" y="1023.6" width="23.3" height="8.2" fill="#0000ff" fill-opacity="0.35"/>
<text x="689.5" y="1031" font-size="10.8" fill="#000" stroke="#000" stroke-width="0.18" textLength="39.5" lengthAdjust="spacingAndGlyphs">STD C2</text>
<path d="M656.4 1043.6H682.5" stroke="#000080" stroke-width="3.3"/>
<text x="689.8" y="1047.2" font-size="10.8" fill="#000" stroke="#000" stroke-width="0.18" font-style="italic" textLength="15" lengthAdjust="spacingAndGlyphs">RH</text>
<text x="709.2" y="1047.2" font-size="10.8" fill="#000" stroke="#000" stroke-width="0.18" textLength="47.2" lengthAdjust="spacingAndGlyphs">Mean C2</text>
</g>
<text x="416.5" y="1275.8" font-size="15.4" fill="#000" stroke="#000" stroke-width="0.3" text-anchor="middle" textLength="101" lengthAdjust="spacingAndGlyphs">Forecast hour</text>
</svg></body></html>
